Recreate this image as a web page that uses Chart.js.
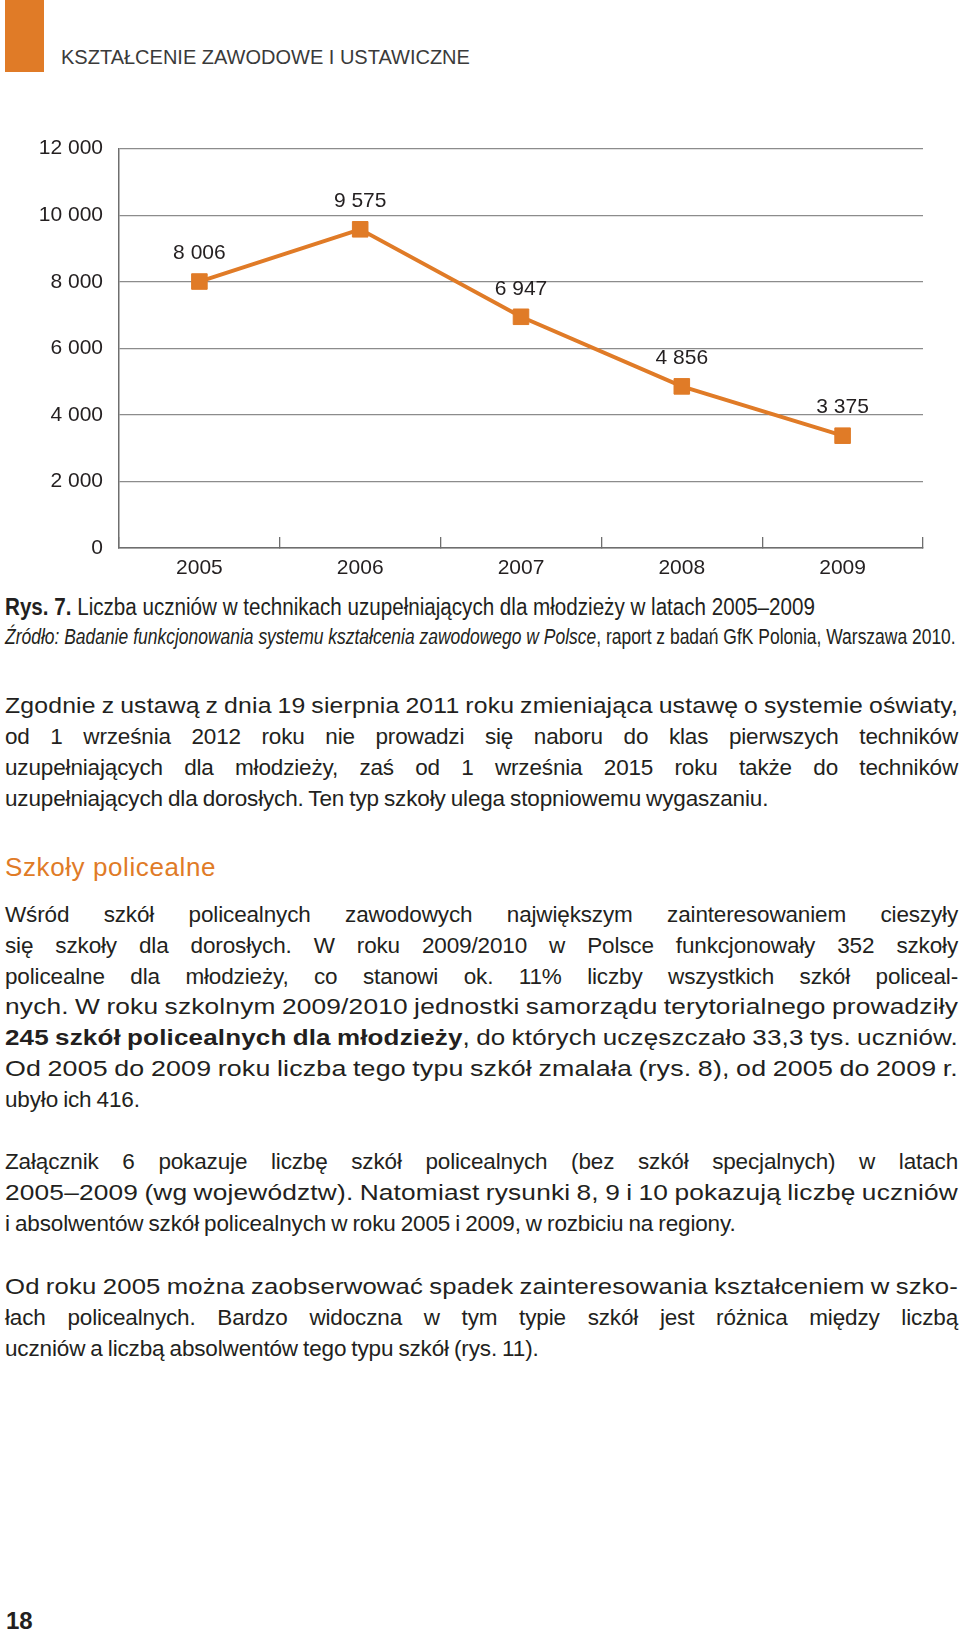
<!DOCTYPE html>
<html lang="pl">
<head>
<meta charset="utf-8">
<title>Rys. 7</title>
<script src="https://cdn.jsdelivr.net/npm/chart.js@4.4.1/dist/chart.umd.min.js"></script>
<style>
html, body { margin: 0; padding: 0; background: #fff; }
body {
    width: 960px; height: 1632px; position: relative; overflow: hidden;
    font-family: "Liberation Sans", Arial, sans-serif; color: #231f20;
}
.tab { position: absolute; left: 5px; top: 0; width: 39px; height: 72px; background: #e07b27; }
.header { position: absolute; left: 61px; top: 45px; font-size: 20px; line-height: 24px; color: #3a3a3a; }
#chartBox { position: absolute; left: 0; top: 120px; width: 960px; height: 470px; }
.cap { position: absolute; left: 5px; line-height: 30px; white-space: nowrap; }
.cap span { display: inline-block; transform-origin: 0 50%; }
.text { position: absolute; left: 5px; width: 953px; font-size: 22.5px; line-height: 31px; letter-spacing: -0.15px; word-spacing: -1px; }
.text div { text-align: justify; text-align-last: justify; white-space: nowrap; }
.text div.last { text-align-last: left; }
.text div.tight { text-align-last: left; }
.text div.tight span { display: inline-block; transform-origin: 0 50%; }
.heading { position: absolute; left: 5px; top: 852px; font-size: 26px; line-height: 31px; letter-spacing: 0.6px; color: #e07b27; }
.pagenum { position: absolute; left: 6px; top: 1607px; font-size: 24px; font-weight: bold; line-height: 28px; }
</style>
</head>
<body>
<div class="tab"></div>
<div class="header">KSZTAŁCENIE ZAWODOWE I USTAWICZNE</div>

<div id="chartBox"><canvas id="chart" width="960" height="470"></canvas></div>

<div class="cap" style="top:592px; font-size:23px"><span data-w="810"><b>Rys. 7.</b> Liczba uczniów w technikach uzupełniających dla młodzieży w latach 2005–2009</span></div>
<div class="cap" style="top:622px; font-size:22px"><span data-w="951"><i>Źródło: Badanie funkcjonowania systemu kształcenia zawodowego w Polsce</i>, raport z badań GfK Polonia, Warszawa 2010.</span></div>

<div class="text" style="top:690px">
    <div class="tight"><span>Zgodnie z ustawą z dnia 19 sierpnia 2011 roku zmieniająca ustawę o systemie oświaty,</span></div>
    <div>od 1 września 2012 roku nie prowadzi się naboru do klas pierwszych techników</div>
    <div>uzupełniających dla młodzieży, zaś od 1 września 2015 roku także do techników</div>
    <div class="last">uzupełniających dla dorosłych. Ten typ szkoły ulega stopniowemu wygaszaniu.</div>
</div>

<div class="heading">Szkoły policealne</div>

<div class="text" style="top:900px; line-height:30.8px">
    <div>Wśród szkół policealnych zawodowych największym zainteresowaniem cieszyły</div>
    <div>się szkoły dla dorosłych. W roku 2009/2010 w Polsce funkcjonowały 352 szkoły</div>
    <div>policealne dla młodzieży, co stanowi ok. 11% liczby wszystkich szkół policeal-</div>
    <div class="tight"><span>nych. W roku szkolnym 2009/2010 jednostki samorządu terytorialnego prowadziły</span></div>
    <div class="tight"><span><b>245 szkół policealnych dla młodzieży</b>, do których uczęszczało 33,3 tys. uczniów.</span></div>
    <div class="tight"><span>Od 2005 do 2009 roku liczba tego typu szkół zmalała (rys. 8), od 2005 do 2009 r.</span></div>
    <div class="last">ubyło ich 416.</div>
</div>

<div class="text" style="top:1146px">
    <div>Załącznik 6 pokazuje liczbę szkół policealnych (bez szkół specjalnych) w latach</div>
    <div class="tight"><span>2005–2009 (wg województw). Natomiast rysunki 8, 9 i 10 pokazują liczbę uczniów</span></div>
    <div class="last">i absolwentów szkół policealnych w roku 2005 i 2009, w rozbiciu na regiony.</div>
</div>

<div class="text" style="top:1271px">
    <div class="tight"><span>Od roku 2005 można zaobserwować spadek zainteresowania kształceniem w szko-</span></div>
    <div>łach policealnych. Bardzo widoczna w tym typie szkół jest różnica między liczbą</div>
    <div class="last">uczniów a liczbą absolwentów tego typu szkół (rys. 11).</div>
</div>

<div class="pagenum">18</div>

<script>
// dane wykresu
const years = ['2005', '2006', '2007', '2008', '2009'];
const students = [8006, 9575, 6947, 4856, 3375];
const yTicks = [0, 2000, 4000, 6000, 8000, 10000, 12000];

const ORANGE = '#e07b27';
const GRID = '#8c8c8c';
const AXIS = '#6e6e6e';
const TEXT = '#231f20';
const FONT = '"Liberation Sans", Arial, sans-serif';
const FONT_SIZE = 21;
const COLUMN = 953;

// 12000 -> "12 000"
function fmt(v) {
    return String(v).replace(/\B(?=(\d{3})+(?!\d))/g, ' ');
}

// podpis rysunku - zwężony krój, dopasowany do szerokości
document.querySelectorAll('.cap span').forEach(el => {
    const target = Number(el.dataset.w);
    el.style.transform = 'scaleX(' + (target / el.offsetWidth) + ')';
});

// ciasno złożone wiersze: trochę światła między literami, reszta przez skalowanie
document.querySelectorAll('.text div.tight span').forEach(span => {
    const chars = span.textContent.length;
    const slack = COLUMN - span.getBoundingClientRect().width;
    const extra = Math.max(0, Math.min(0.3, slack / chars));
    span.style.letterSpacing = (-0.15 + extra) + 'px';
    const w = span.getBoundingClientRect().width;
    span.style.transform = 'scaleX(' + (COLUMN / w) + ')';
});

// etykiety wartości nad punktami
const valueLabels = {
    id: 'valueLabels',
    afterDatasetsDraw(chart) {
        const ctx = chart.ctx;
        const meta = chart.getDatasetMeta(0);
        ctx.save();
        ctx.font = FONT_SIZE + 'px ' + FONT;
        ctx.fillStyle = TEXT;
        ctx.textAlign = 'center';
        ctx.textBaseline = 'middle';
        meta.data.forEach((pt, i) => {
            ctx.fillText(fmt(students[i]), pt.x, pt.y - 28);
        });
        ctx.restore();
    }
};

new Chart(document.getElementById('chart'), {
    type: 'line',
    data: {
        labels: years,
        datasets: [{
            data: students,
            borderColor: ORANGE,
            borderWidth: 4,
            backgroundColor: ORANGE,
            pointStyle: 'rect',
            pointRadius: 11,
            pointBackgroundColor: ORANGE,
            pointBorderColor: ORANGE,
            pointBorderWidth: 1,
            tension: 0,
            fill: false
        }]
    },
    options: {
        responsive: false,
        animation: false,
        layout: { padding: { top: 28, right: 37, left: 0, bottom: 0 } },
        plugins: {
            legend: { display: false },
            tooltip: { enabled: false }
        },
        scales: {
            x: {
                offset: true,
                grid: {
                    offset: true,
                    drawOnChartArea: false,
                    drawTicks: true,
                    tickLength: -11,
                    color: AXIS,
                    lineWidth: 1.3
                },
                border: { color: AXIS, width: 1.5 },
                ticks: { color: TEXT, font: { family: FONT, size: FONT_SIZE }, padding: 19 },
                afterFit(scale) { scale.height = 42; }
            },
            y: {
                min: 0,
                max: 12000,
                afterBuildTicks(scale) { scale.ticks = yTicks.map(v => ({ value: v })); },
                grid: { color: GRID, lineWidth: 1.3, drawTicks: false },
                border: { color: AXIS, width: 1.5 },
                ticks: {
                    color: TEXT,
                    font: { family: FONT, size: FONT_SIZE },
                    padding: 16,
                    callback: v => fmt(v)
                },
                afterFit(scale) { scale.width = 119; }
            }
        }
    },
    plugins: [valueLabels]
});
</script>
</body>
</html>
